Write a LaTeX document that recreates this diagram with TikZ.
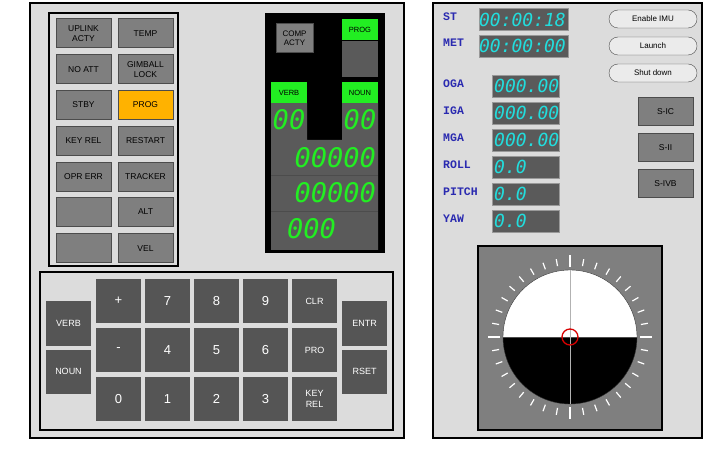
\documentclass[tikz,border=0pt]{standalone}
\usepackage{fontspec}
\setmainfont{Liberation Sans}
\newfontfamily\labfont{Liberation Mono}
\newfontfamily\segfont{DejaVu Sans Mono}
\usetikzlibrary{positioning}
\definecolor{panel}{HTML}{DCDCDC}
\definecolor{lampc}{HTML}{7F7F7F}
\definecolor{keyc}{HTML}{555555}
\definecolor{dsp}{HTML}{5A5A5A}
\definecolor{segg}{HTML}{22EE22}
\definecolor{segc}{HTML}{22DDDD}
\definecolor{labc}{HTML}{2A2AB0}
\begin{document}
\begin{tikzpicture}[x=1pt,y=-1pt,
	lamp/.style={draw=black!70,fill=lampc,line width=1pt,minimum width=55pt,minimum height=29pt,
		inner sep=0pt,align=center,font=\fontsize{8.5}{10}\selectfont},
	key/.style={fill=keyc,text=white,minimum width=45pt,minimum height=44pt,inner sep=0pt,
		align=center,font=\fontsize{9}{11}\selectfont},
	bigkey/.style={key,font=\fontsize{13}{13}\selectfont},
	tag/.style={fill=segg,minimum width=36pt,minimum height=21pt,inner sep=0pt,font=\fontsize{7.5}{8}\selectfont},
	seg/.style={text=segg,inner sep=0pt,font=\segfont\itshape\fontsize{27}{27}\selectfont},
	readout/.style={fill=dsp,draw=black!40,inner sep=0pt,anchor=west,minimum height=22pt},
	cyanseg/.style={text=segc,inner sep=0pt,font=\segfont\itshape\fontsize{18}{18}\selectfont},
	lbl/.style={text=labc,anchor=west,inner sep=0pt,font=\labfont\bfseries\fontsize{11.5}{11}\selectfont},
	pill/.style={draw=black!70,fill=white!92!black,rounded corners=9pt,minimum width=88pt,
		minimum height=18pt,inner sep=0pt,font=\fontsize{8}{9}\selectfont},
	stage/.style={lamp,minimum height=28pt}]
\useasboundingbox (0,0) rectangle (704,454);
\fill[white] (0,0) rectangle (704,454);

% DSKY panel
\draw[fill=panel,line width=1.2pt] (30,3) rectangle (404,438);
\draw[line width=1.5pt] (49,13) rectangle (178,266);
\foreach \txt/\x/\y in {{UPLINK\\ACTY}/83.5/33.5, {NO ATT}/83.5/69.5, STBY/83.5/105,
	{KEY REL}/83.5/141, {OPR ERR}/83.5/177, {}/83.5/212, {}/83.5/248.5,
	TEMP/145.5/33.5, {GIMBALL\\LOCK}/145.5/69.5, {RESTART}/145.5/141,
	TRACKER/145.5/177, ALT/145.5/212, VEL/145.5/248.5}
	\node[lamp] at (\x,\y) {\txt};
\node[lamp,fill=orange!60!yellow] (proglamp) at (145.5,105) {PROG};

% display
\fill[black] (265,13) rectangle (385,253);
\fill[dsp] (271,103) -- (307,103) -- (307,140) -- (342,140) -- (342,103) -- (378,103)
	-- (378,250) -- (271,250) -- cycle;
\draw[black!70] (271,175) -- (378,175) (271,211) -- (378,211);
\node[lamp,minimum width=37pt,minimum height=29pt,font=\fontsize{8}{9}\selectfont] (comp) at (294.5,38.5) {COMP\\ACTY};
\node[tag] (prog) at (360,30) {PROG};
\fill[dsp] (prog.south west) rectangle ++(36,36);
\node[tag] (verb) at (289,92.5) {VERB};
\node[tag] (noun) at (360,92.5) {NOUN};
\node[seg] (vd) at (289,120) {00};
\node[seg] (nd) at (360,120) {00};
\node[seg,anchor=east] (r1) at (376,157.5) {00000};
\node[seg,anchor=east] (r2) at (376,193) {00000};
\node[seg,anchor=west] (r3) at (287,229) {000};

% keyboard
\draw[line width=1.2pt] (40,272) rectangle (393,430);
\node[key] (verbk) at (68.5,323.5) {VERB};
\node[key] (nounk) at (68.5,371.5) {NOUN};
\node[key] (entr) at (364.5,323.5) {ENTR};
\node[key] (rset) at (364.5,371.5) {RSET};
\foreach \a/\b/\c/\d/\y in {+/7/8/9/301, -/4/5/6/350, 0/1/2/3/399}{
	\node[bigkey] at (118.5,\y) {\a};
	\node[bigkey] at (167.5,\y) {\b};
	\node[bigkey] at (216.5,\y) {\c};
	\node[bigkey] at (265.5,\y) {\d};}
\node[key] (clr) at (314.5,301) {CLR};
\node[key] (pro) at (314.5,350) {PRO};
\node[key] (krel) at (314.5,399) {KEY\\REL};

% monitor panel
\draw[fill=panel,line width=1.2pt] (433,3) rectangle (702,438);
\foreach \n/\y/\v in {ST/19.5/{00:00:18}, MET/46/{00:00:00}}{
	\node[lbl] at (443,\y-3) {\n};
	\node[readout,minimum width=89pt] at (479,\y) {};
	\node[cyanseg,anchor=east] at (566,\y) {\v};}
\foreach \n/\y/\v in {OGA/86/{000.00}, IGA/113/{000.00}, MGA/140/{000.00},
	ROLL/167/{0.0}, PITCH/194/{0.0}, YAW/221/{0.0}}{
	\node[lbl] at (443,\y-2) {\n};
	\node[readout,minimum width=67pt] (r\n) at (492,\y) {};
	\node[cyanseg,anchor=west] at (494,\y) {\v};}
\node[pill] (imu) at (653,19) {Enable IMU};
\node[pill] (launch) at (653,46) {Launch};
\node[pill] (shut) at (653,73) {Shut down};
\node[stage] (sic) at (665.5,112) {S-IC};
\node[stage] (sii) at (665.5,148) {S-II};
\node[stage] (sivb) at (665.5,184) {S-IVB};

% attitude ball
\draw[fill=lampc,line width=2pt] (478,246) rectangle (662,430);
\coordinate (ball) at (570,337);
\fill[white] (ball) ++(-67,0) arc[start angle=180,end angle=360,radius=67];
\fill[black] (ball) ++(-67,0) arc[start angle=180,end angle=0,radius=67];
\draw[black!80] (ball) circle (67);
\draw[black!70] (ball) ++(-67,0) -- ++(134,0);
\draw[gray!60,line width=1pt] (ball) ++(0,-67) -- ++(0,134);
\foreach \a in {0,10,...,350}
	\draw[white,line width=1.2pt] (ball) ++(\a:72) -- ++(\a:7);
\foreach \a in {0,90,180,270}
	\draw[white,line width=1.4pt] (ball) ++(\a:70) -- ++(\a:12);
\draw[red!85!black,line width=1.3pt] (ball) circle (8);
\end{tikzpicture}
\end{document}
